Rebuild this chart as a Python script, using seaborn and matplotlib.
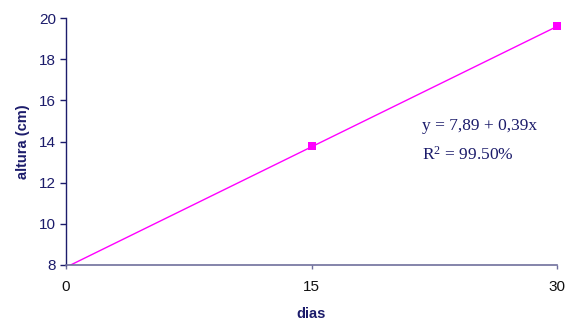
import matplotlib
matplotlib.use("Agg")
import matplotlib.pyplot as plt
import seaborn as sns
import numpy as np
import pandas as pd

# Data
dias = [15, 30]
altura = [13.78, 19.62]
intercept = 7.89
slope = 0.39
x_ticks = [0, 15, 30]
y_ticks = [8, 10, 12, 14, 16, 18, 20]

sns.set_style("white")
plt.rcParams['font.family'] = ['Liberation Sans', 'DejaVu Sans']
plt.rcParams['mathtext.fontset'] = 'custom'
plt.rcParams['mathtext.rm'] = 'Liberation Serif'
plt.rcParams['mathtext.it'] = 'Liberation Serif:italic'

navy = "#1c1c6b"
magenta = "#ff00ff"

fig = plt.figure(figsize=(5.68, 3.21), dpi=100)
ax = fig.add_axes([66/568, (321-265)/321, (557-66)/568, (265-18)/321])

xfit = np.array([x_ticks[0], x_ticks[-1]])
fit_df = pd.DataFrame({"dias": xfit, "altura": intercept + slope * xfit})
sns.lineplot(data=fit_df, x="dias", y="altura", ax=ax, color=magenta, lw=1.0)

pts = pd.DataFrame({"dias": dias, "altura": altura})
sns.scatterplot(data=pts, x="dias", y="altura", ax=ax, color=magenta, marker="s",
                s=30, edgecolor=magenta, linewidth=0, zorder=5, clip_on=False)

ax.set_xlim(0, 30)
ax.set_ylim(8, 20)
ax.set_xticks(x_ticks)
ax.set_yticks(y_ticks)
ax.set_xticklabels([str(v) for v in x_ticks], fontsize=11, color="#111111")
ax.set_yticklabels([str(v) for v in y_ticks], fontsize=11, color=navy)

for s in ["top", "right"]:
    ax.spines[s].set_visible(False)
ax.spines["left"].set_color(navy)
ax.spines["left"].set_linewidth(1.0)
ax.spines["bottom"].set_color("#6f6f9c")
ax.spines["bottom"].set_linewidth(1.2)

ax.tick_params(axis="y", direction="out", length=4, width=1, color=navy, pad=3, left=True)
ax.tick_params(axis="x", direction="out", length=3, width=1, color="#6f6f9c", pad=8, bottom=True)

ax.set_xlabel("dias", fontsize=10.5, fontweight="bold", color=navy, labelpad=9)
ax.set_ylabel("altura (cm)", fontsize=10.5, fontweight="bold", color=navy, labelpad=7)

ax.text(0.725, 0.563, "y = 7,89 + 0,39x", transform=ax.transAxes,
        fontsize=12.5, family=["Liberation Serif", "DejaVu Serif"], color=navy, va="center")
ax.text(0.725, 0.448, r"R$^{2}$ = 99.50%", transform=ax.transAxes,
        fontsize=12.5, family=["Liberation Serif", "DejaVu Serif"], color=navy, va="center")

fig.savefig("out.png", dpi=100)
